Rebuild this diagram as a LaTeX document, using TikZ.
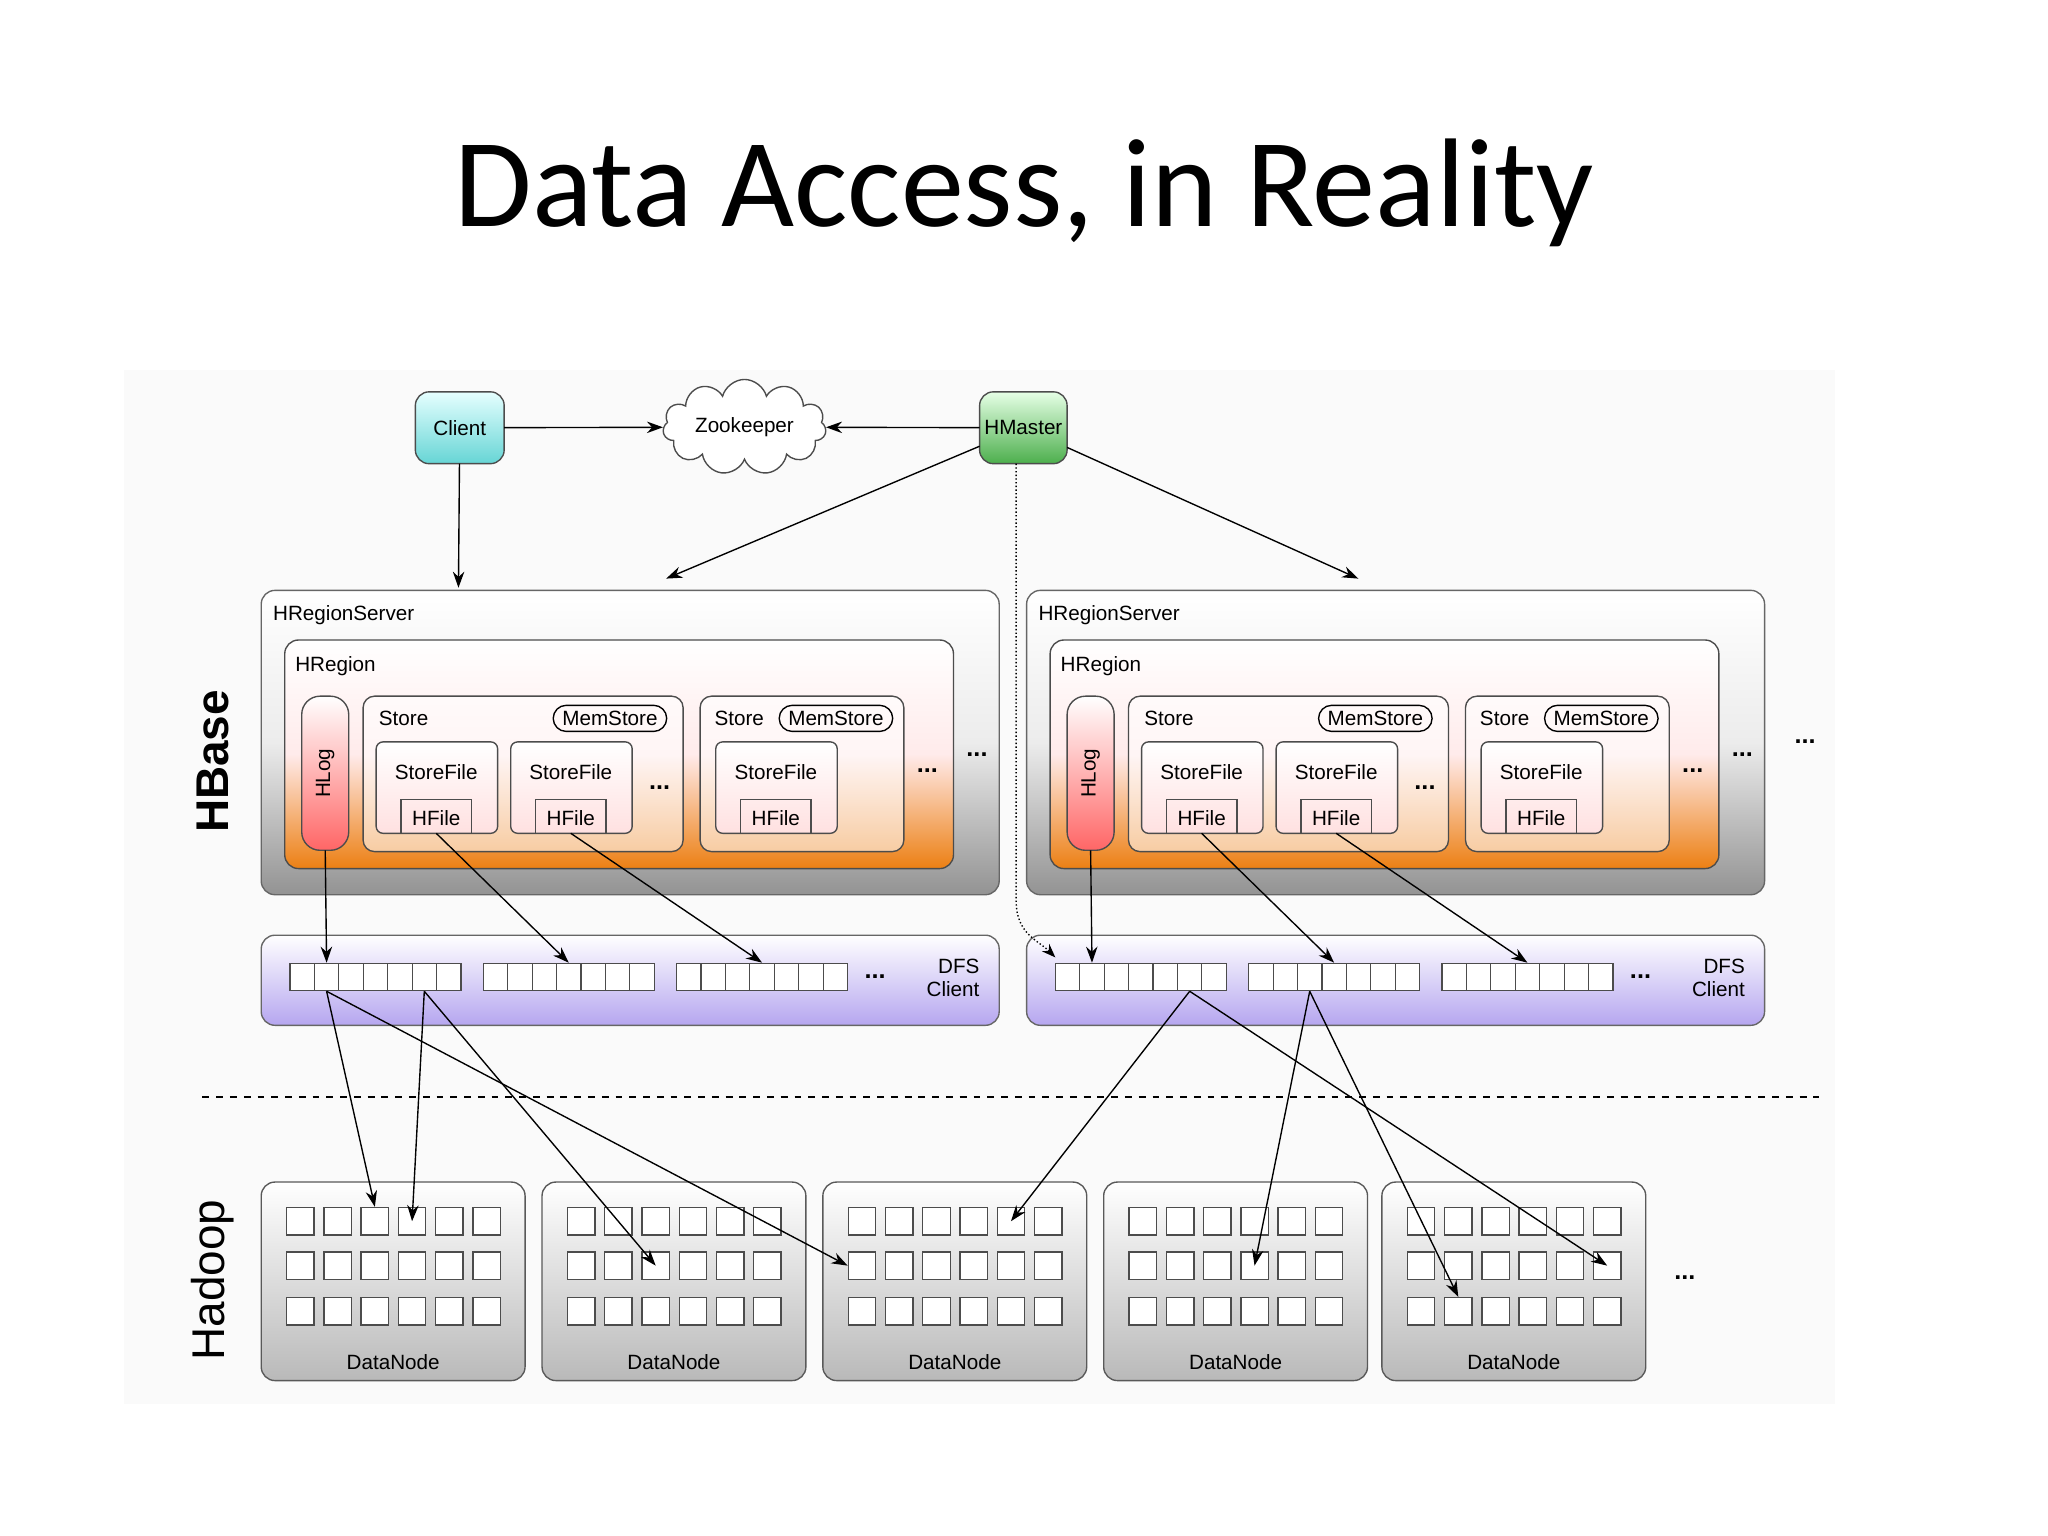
\documentclass[tikz,border=0pt]{standalone}
\usepackage{fontspec}
\setmainfont{Liberation Sans}
\newfontfamily\titlefont{Carlito}
\usetikzlibrary{shapes.symbols,shapes.misc,arrows.meta}
\newcommand\bx[6]{\node[#6, minimum width={((#4)-(#2))*0.02cm}, minimum height={((#5)-(#3))*0.02cm}, inner sep=0pt, outer sep=0pt] (#1) at ({((#2)+(#4))/2},{((#3)+(#5))/2}) {};}
\begin{document}
\begin{tikzpicture}[x=0.02cm,y=-0.02cm,
  arr/.style={-{Stealth[length=7pt,width=5pt]},line width=0.6pt},
  lbl/.style={font=\fontsize{9}{10}\selectfont,inner sep=1pt},
  pill/.style={lbl,draw,rounded rectangle,inner xsep=3pt,minimum height={20*0.02cm},line width=0.6pt},
  rs/.style={draw=gray!80!black,rounded corners=6pt,top color=white,bottom color=gray!85,middle color=gray!15,line width=0.6pt},
  hr/.style={draw=gray!60!black,rounded corners=6pt,top color=white,bottom color=orange!70!brown,middle color=red!8,line width=0.6pt},
  st/.style={draw=gray!60!black,rounded corners=5pt,fill=white,fill opacity=0.55,line width=0.6pt},
  sf/.style={draw=gray!60!black,rounded corners=3pt,top color=white,bottom color=red!12,line width=0.6pt},
  hf/.style={draw=gray!60!black,line width=0.6pt},
  hl/.style={draw=gray!60!black,rounded corners=8pt,top color=white,bottom color=red!60,line width=0.6pt},
  dfs/.style={draw=gray!80!black,rounded corners=6pt,top color=white,bottom color=violet!35!blue!35,line width=0.6pt},
  dn/.style={draw=gray!70!black,rounded corners=6pt,top color=white,bottom color=gray!55,line width=0.6pt},
  cell/.style={draw=gray!60!black,fill=white,line width=0.6pt,minimum size={21*0.02cm},inner sep=0pt},
  bcell/.style={draw=gray!60!black,fill=white,line width=0.5pt,minimum width={18.7*0.02cm},minimum height={21*0.02cm},inner sep=0pt},
  dots/.style={font=\bfseries\fontsize{11}{11}\selectfont,inner sep=0pt}]
\useasboundingbox (0,0) rectangle (1568,1176);
\fill[white] (0,0) rectangle (1568,1176);
\fill[gray!4] (95,283) rectangle (1405,1075);
\node[font=\titlefont\fontsize{55}{60}\selectfont] (title) at (784,148) {Data Access, in Reality};
% top
\bx{client}{318}{300}{386}{355}{draw=gray!60!black,rounded corners=6pt,top color=cyan!10,bottom color=cyan!45!teal!60,line width=0.6pt}
\node[lbl] at (client) {Client};
\bx{hmaster}{750}{300}{817}{355}{draw=gray!60!black,rounded corners=6pt,top color=green!10,bottom color=green!55!black!70,line width=0.6pt}
\node[lbl] at (hmaster) {HMaster};
\node[cloud,cloud puffs=11,aspect=2.2,draw=gray!60!black,fill=white,line width=0.6pt,minimum width={125*0.02cm},minimum height={62*0.02cm},lbl] (zk) at (570,327) {Zookeeper};
\draw[arr] (client) -- (zk);
\draw[arr] (hmaster) -- (zk);
\node[lbl,font=\bfseries\fontsize{20}{22}\selectfont,rotate=90] (hb) at (163,583) {HBase};
\node[lbl,font=\fontsize{20}{22}\selectfont,rotate=90] (hd) at (163,980) {Hadoop};
\foreach \o/\n in {0/a,586/b}{
  \begin{scope}[xshift=\o*0.02cm]
  \bx{rs\n}{200}{452}{765}{685}{rs}
  \node[lbl,anchor=west] at (207,471) {HRegionServer};
  \bx{hr\n}{218}{490}{730}{665}{hr}
  \node[lbl,anchor=west] at (224,510) {HRegion};
  \bx{hl\n}{231}{533}{267}{651}{hl}
  \node[lbl,rotate=90] at (249,592) {HLog};
  \bx{sa\n}{278}{533}{523}{652}{st}
  \node[lbl,anchor=west] at (288,550) {Store};
  \node[pill] at (467,550) {MemStore};
  \bx{sb\n}{536}{533}{692}{652}{st}
  \node[lbl,anchor=west] at (545,550) {Store};
  \node[pill] at (640,550) {MemStore};
  \bx{sfa\n}{288}{568}{381}{638}{sf}
  \bx{sfb\n}{391}{568}{484}{638}{sf}
  \bx{sfc\n}{548}{568}{641}{638}{sf}
  \foreach \c/\k in {334/a,437/b,594/c}{
    \node[lbl] at (\c,591) {StoreFile};
    \bx{hf\k\n}{\c-27}{612}{\c+27}{638}{hf}
    \node[lbl] at (\c,626) {HFile};
  }
  \node[dots] at (505,603) {...};
  \node[dots] at (710,590) {...};
  \node[dots] at (748,578) {...};
  \bx{dfs\n}{200}{716}{765}{785}{dfs}
  \foreach \bs/\bk in {222/1,370/2,518/3}{
    \foreach \i in {0,...,6}{
      \node[bcell] (b\n\bk\i) at (\bs+9.35+\i*18.7,748) {};
    }
  }
  \node[dots] at (670,748) {...};
  \node[lbl,align=right,anchor=east] at (752,749) {DFS\\Client};
  \end{scope}
}
\node[dots] at (1382,568) {...};
% arrows master/client
\draw[arr] (client) -- (351,450);
\draw[arr] (hmaster) -- (510,443);
\draw[arr] (hmaster) -- (1040,443);
\draw[densely dotted,line width=0.6pt,-{Stealth[length=6pt]}] (hmaster.south -| 778,355) -- (778,690) .. controls (778,715) and (795,720) .. (808,733);
% HRegion -> DFS
\foreach \n in {a,b}{
  \draw[arr] (hl\n.south) -- (b\n11.north);
  \draw[arr] (hfa\n.south) -- (b\n23.north);
  \draw[arr] (hfb\n.south) -- (b\n33.north);
}
\draw[dashed,line width=0.6pt] (155,840) -- (1393,840);
% DataNodes
\foreach \x/\k in {200/1,415/2,630/3,845/4,1058/5}{
  \bx{dn\k}{\x}{905}{\x+202}{1057}{dn}
  \node[lbl] at (\x+101,1043) {DataNode};
  \foreach \r/\yy in {1/935,2/969,3/1004}{
    \foreach \c in {1,...,6}{
      \node[cell] (c\k\r\c) at (\x+30+\c*28.5-28.5,\yy) {};
    }
  }
}
\node[dots] at (1290,978) {...};
% DFS -> DataNodes
\draw[arr] (ba11.south) -- (c113.north);
\draw[arr] (ba11.south) -- (c321.west);
\draw[arr] (ba15.south) -- (c114.center);
\draw[arr] (ba15.south) -- (c223.center);
\draw[arr] (bb15.south) -- (c315.center);
\draw[arr] (bb15.south) -- (c526.center);
\draw[arr] (bb22.south) -- (c424.center);
\draw[arr] (bb22.south) -- (c532.north);
\end{tikzpicture}
\end{document}
